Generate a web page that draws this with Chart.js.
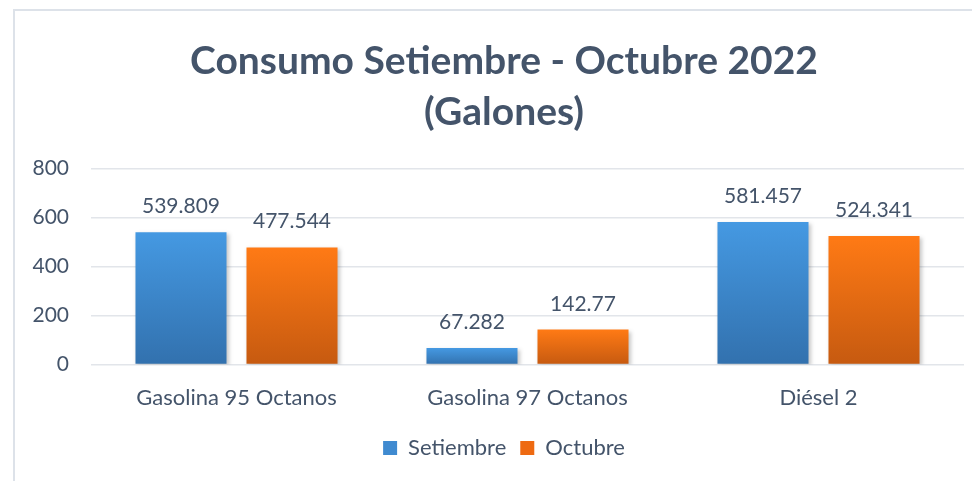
<!DOCTYPE html>
<html>
<head>
<meta charset="utf-8">
<script src="https://cdn.jsdelivr.net/npm/chart.js@4"></script>
<style>
  html, body { margin: 0; padding: 0; background: #fff; overflow: hidden; }
  #frame {
    position: absolute; left: 13px; top: 9px;
    width: 990px; height: 480px;
    border-left: 2px solid #DDE2E9; border-top: 2px solid #DDE2E9;
  }
</style>
</head>
<body>
<div id="frame"><canvas id="consumoChart" width="978" height="470"></canvas></div>
<script>
const categories = ["Gasolina 95 Octanos", "Gasolina 97 Octanos", "Diésel 2"];
const setiembre = [539.809, 67.282, 581.457];
const octubre = [477.544, 142.77, 524.341];
const yTicks = [0, 200, 400, 600, 800];

const textColor = "#44546A";
const fontName = "Lato";

// vertical gradient for each bar, from its top down to the base
function barGradient(top, bottom) {
    return function (context) {
        const chart = context.chart;
        if (!chart.chartArea || context.type !== "data") return top;
        const y = chart.scales.y;
        const y0 = y.getPixelForValue(context.raw);
        const y1 = y.getPixelForValue(0);
        const g = chart.ctx.createLinearGradient(0, y0, 0, y1);
        g.addColorStop(0, top);
        g.addColorStop(1, bottom);
        return g;
    };
}

const valueLabels = {
    id: "valueLabels",
    beforeDatasetsDraw(chart) {
        const ctx = chart.ctx;
        ctx.save();
        ctx.shadowColor = "rgba(0,0,0,0.22)";
        ctx.shadowBlur = 4;
        ctx.shadowOffsetX = 2;
        ctx.shadowOffsetY = 2;
    },
    afterDatasetsDraw(chart) {
        const ctx = chart.ctx;
        ctx.restore();
        ctx.save();
        ctx.font = "21px " + fontName;
        ctx.fillStyle = textColor;
        ctx.textAlign = "center";
        ctx.textBaseline = "alphabetic";
        chart.data.datasets.forEach(function (ds, i) {
            chart.getDatasetMeta(i).data.forEach(function (bar, j) {
                ctx.fillText(String(ds.data[j]), bar.x, bar.y - 19);
            });
        });
        ctx.restore();
    }
};

new Chart(document.getElementById("consumoChart").getContext("2d"), {
    type: "bar",
    data: {
        labels: categories,
        datasets: [
            {
                label: "Setiembre",
                data: setiembre,
                backgroundColor: barGradient("#4599E2", "#3271AE"),
                legendColor: "#3F8AD0"
            },
            {
                label: "Octubre",
                data: octubre,
                backgroundColor: barGradient("#FF7A15", "#C65A10"),
                legendColor: "#EE6A12"
            }
        ]
    },
    plugins: [valueLabels],
    options: {
        responsive: false,
        animation: false,
        layout: { padding: { left: 0, right: 0, top: 0, bottom: 12 } },
        datasets: {
            bar: { barPercentage: 0.82, categoryPercentage: 0.763 }
        },
        scales: {
            x: {
                grid: { display: false },
                border: { display: false },
                ticks: { color: textColor, font: { family: fontName, size: 22 }, padding: 12 }
            },
            y: {
                min: 0,
                max: 800,
                afterBuildTicks: function (scale) {
                    scale.ticks = yTicks.map(v => ({ value: v }));
                },
                afterFit: function (scale) { scale.width = 76; },
                grid: { color: "#E2E5EA", lineWidth: 1.5, drawTicks: false },
                border: { display: false },
                ticks: { color: textColor, font: { family: fontName, size: 21 }, padding: 22 }
            },
            // empty right axis, only keeps the plot off the right edge
            spacer: {
                type: "linear",
                position: "right",
                afterFit: function (scale) { scale.width = 29; },
                grid: { display: false },
                border: { display: false },
                ticks: { display: false }
            }
        },
        plugins: {
            title: {
                display: true,
                text: ["Consumo Setiembre - Octubre 2022", "(Galones)"],
                color: textColor,
                font: { family: fontName, size: 39, weight: "bold", lineHeight: 1.3 },
                padding: { top: 25, bottom: 31 }
            },
            legend: {
                position: "bottom",
                labels: {
                    color: textColor,
                    font: { family: fontName, size: 22 },
                    boxWidth: 14,
                    boxHeight: 14,
                    padding: 14,
                    generateLabels: function (chart) {
                        return chart.data.datasets.map((ds, i) => ({
                            text: ds.label,
                            fillStyle: ds.legendColor,
                            strokeStyle: ds.legendColor,
                            lineWidth: 0,
                            fontColor: textColor,
                            datasetIndex: i
                        }));
                    }
                }
            },
            tooltip: { enabled: false }
        }
    }
});
</script>
</body>
</html>
